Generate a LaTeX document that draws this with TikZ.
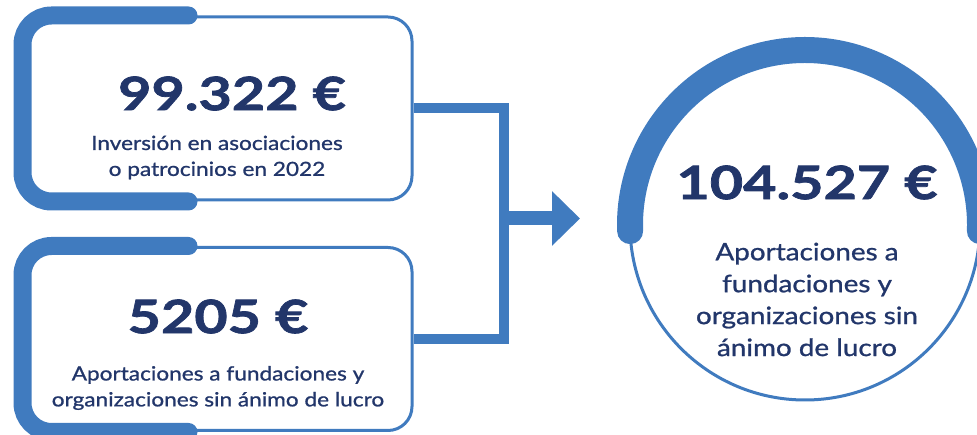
\documentclass[tikz,border=0pt]{standalone}
\usepackage{fontspec}
\setmainfont{Lato}
\newfontfamily\numfont[FakeStretch=1.25,FakeBold=1.6]{Lato}
\newfontfamily\descfont[FakeStretch=1.16,FakeBold=1]{Lato}
\usetikzlibrary{arrows.meta}
\definecolor{accblue}{HTML}{407BBF}
\definecolor{navy}{HTML}{22366A}
\newcommand\descsize[1]{\descfont\fontsize{#1}{\fpeval{1.33*#1}}\selectfont}

\begin{document}
\begin{tikzpicture}[x=1pt,y=1pt,
  box/.style={draw=accblue,line width=3pt,rounded corners=24pt,minimum width=388pt,minimum height=183pt,inner sep=0pt},
  ring/.style={draw=accblue,line width=3pt,circle,minimum size=350pt,inner sep=0pt},
  accent/.style={draw=accblue,line width=18pt,line cap=round,rounded corners=29pt},
  amount/.style={text=navy,inner sep=0pt,font=\numfont\bfseries\fontsize{#1}{#1}\selectfont},
  amount/.default=46,
  desc/.style={text=navy,align=center,inner sep=0pt,font=\descsize{#1}},
  desc/.default=19.5,
  link/.style={draw=accblue,line width=10pt}]
\useasboundingbox (0,0) rectangle (977,435);
% boxes on the left
\node[box] (top) at (218,326.5) {};
\node[box] (bot) at (218,96) {};
\draw[accent] ([xshift=166pt]top.north west) -| (top.south west) -- ++(166,0);
\draw[accent] ([xshift=166pt]bot.north west) -| (bot.south west) -- ++(166,0);
\node[amount] (topnum) at (232,341.5) {99.322 €};
\node[desc] (toptxt) at (217,277.5) {Inversión en asociaciones\\o patrocinios en 2022};
\node[amount] (botnum) at (218,118.5) {5205 €};
\node[desc] (bottxt) at (218,47) {Aportaciones a fundaciones y\\organizaciones sin ánimo de lucro};
% total on the right
\node[ring] (total) at (805,210) {};
\draw[accent,line width=26pt] ([shift={(182:175pt)}]total.center) arc[start angle=182,end angle=-2,radius=175pt];
\node[amount] (totalnum) at (807,252.5) {104.527 €};
\node[desc=24] (totaltxt) at (807,135.5) {Aportaciones a\\fundaciones y\\organizaciones sin\\ánimo de lucro};
% connector and arrow
\coordinate (join) at (504,216.5);
\coordinate (tip) at (580,216.5);
\draw[link] (top.east) -| (join) |- (bot.east);
\draw[link,line width=14pt,-{Triangle[length=28pt,width=53pt]}] (join) -- (tip);
\end{tikzpicture}
\end{document}
